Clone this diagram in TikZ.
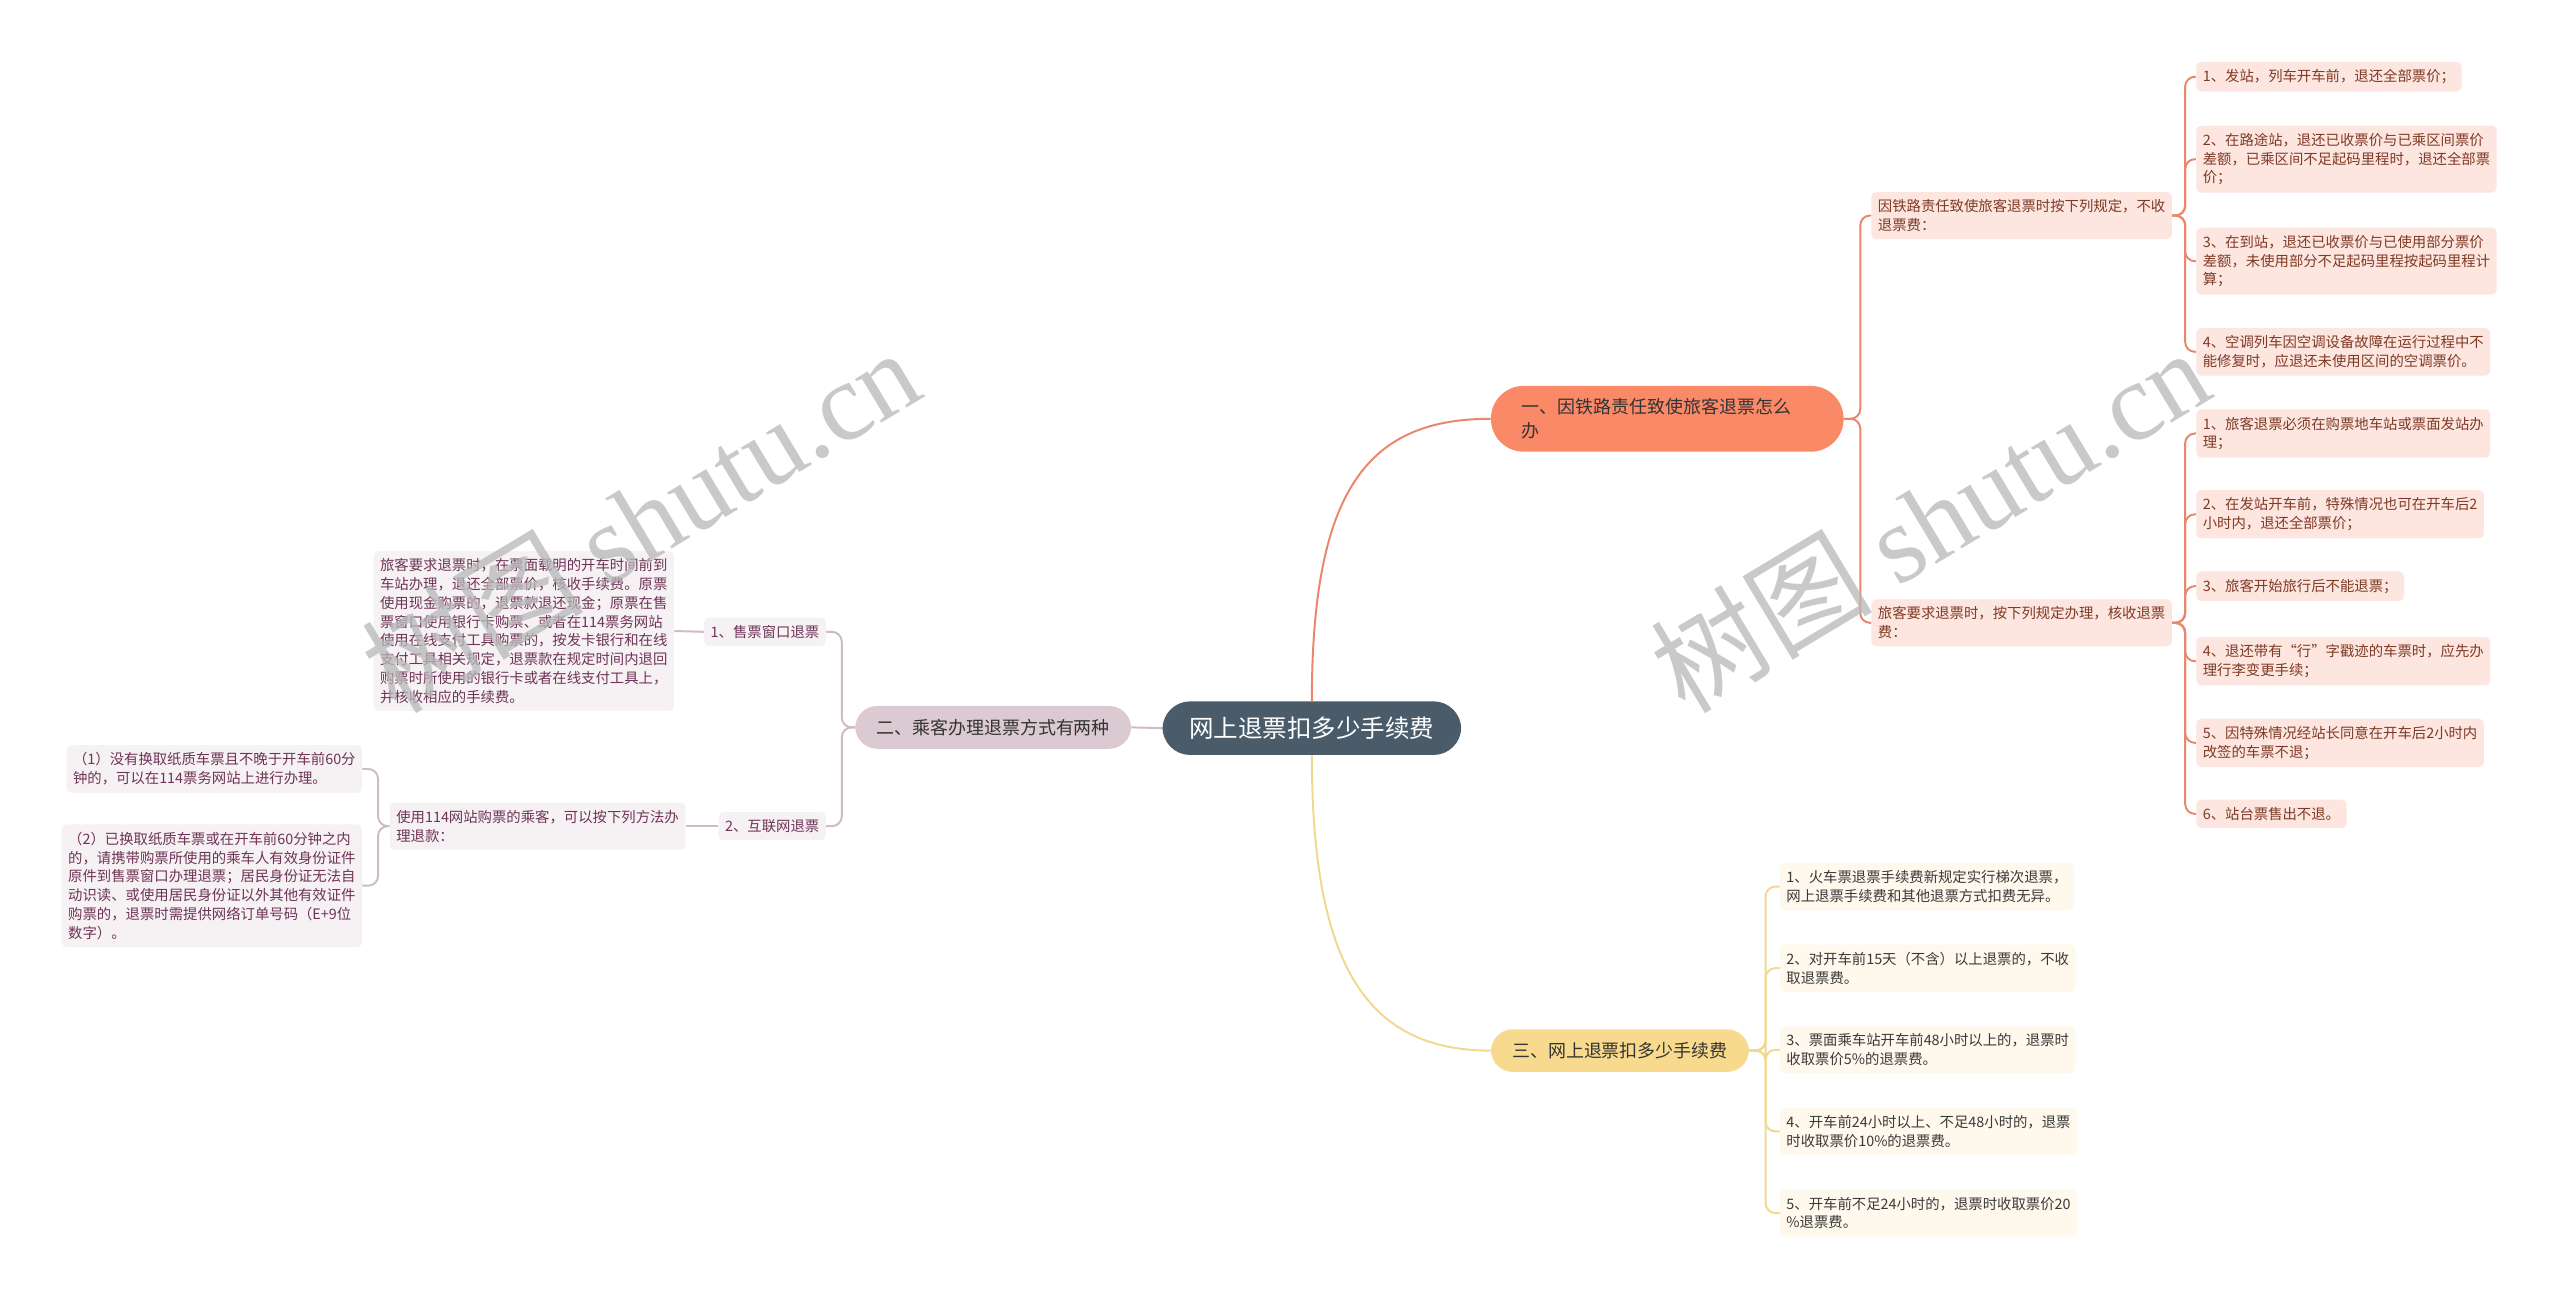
\documentclass[tikz,border=0pt]{standalone}
\usepackage{fontspec}
\setmainfont{Noto Sans CJK SC}
\newfontfamily\wmserif{Liberation Serif}
\usepackage{tikz}
\usetikzlibrary{positioning}
\definecolor{rootbg}{HTML}{4A5B6A}
\definecolor{onebg}{HTML}{FA8968}
\definecolor{oneline}{HTML}{E9866C}
\definecolor{oneleaf}{HTML}{FDE6E0}
\definecolor{onetext}{HTML}{7F3A25}
\definecolor{twobg}{HTML}{DCCAD2}
\definecolor{twoline}{HTML}{CDBCC4}
\definecolor{twoleaf}{HTML}{F6F1F3}
\definecolor{twotext}{HTML}{6E3457}
\definecolor{threebg}{HTML}{F7DA8E}
\definecolor{threeline}{HTML}{F2D88F}
\definecolor{threeleaf}{HTML}{FEF9EC}
\definecolor{threetext}{HTML}{3A3A3A}
\definecolor{darktext}{HTML}{333333}
\definecolor{wmgray}{HTML}{B8B8B8}

\begin{document}
\begin{tikzpicture}[x=1pt, y=-1pt,
    leaf/.style={align=left, inner xsep=4pt, inner ysep=4.6pt, rounded corners=3pt, font=\fontsize{8.8}{11.5}\selectfont},
    redleaf/.style={leaf, fill=oneleaf, text=onetext},
    mauveleaf/.style={leaf, fill=twoleaf, text=twotext},
    yellowleaf/.style={leaf, fill=threeleaf, text=threetext},
    topic/.style={align=left, inner xsep=13pt, inner ysep=8pt, rounded corners=13.5pt, font=\fontsize{11}{15}\selectfont, text=darktext},
    redline/.style={draw=oneline, line width=1.2pt, rounded corners=6pt},
    mauveline/.style={draw=twoline, line width=1.2pt, rounded corners=6pt},
    yellowline/.style={draw=threeline, line width=1.2pt, rounded corners=6pt},
    watermark/.style={rotate=31, text=wmgray, opacity=0.75, font=\fontsize{68}{68}\selectfont}]
        \fill[white] (0,0) rectangle (1568,797);
        \useasboundingbox (0,0) rectangle (1568,797);

        % Root and main topics
        \node[fill=rootbg, text=white, rounded corners=17pt, inner xsep=16.5pt, inner ysep=9.5pt, font=\fontsize{15}{18}\selectfont] (root) at (803.5, 446) {网上退票扣多少手续费};
        \node[topic, fill=onebg, anchor=west, text width=178pt, inner xsep=19pt, inner ysep=7.5pt, rounded corners=20pt] (one) at (913, 256.5) {一、因铁路责任致使旅客退票怎么\\办};
        \node[topic, fill=twobg, anchor=east] (two) at (693, 445.5) {二、乘客办理退票方式有两种};
        \node[topic, fill=threebg, anchor=west] (three) at (913, 643.5) {三、网上退票扣多少手续费};

        \draw[redline] (root.north) .. controls +(0,-130) and +(-75,0) .. (one.west);
        \draw[mauveline] (root.west) -- (two.east);
        \draw[yellowline] (root.south) .. controls +(0,130) and +(-75,0) .. (three.west);

        % Topic one
        \node[redleaf, anchor=west] (oneA) at (1146, 132) {因铁路责任致使旅客退票时按下列规定，不收\\退票费：};
        \node[redleaf, anchor=west] (oneB) at (1146, 381.5) {旅客要求退票时，按下列规定办理，核收退票\\费：};
        \draw[redline] (one.east) -- ++(10,0) |- (oneA.west);
        \draw[redline] (one.east) -- ++(10,0) |- (oneB.west);

        \node[redleaf, anchor=west] (oneA1) at (1345, 47) {1、发站，列车开车前，退还全部票价；};
        \node[redleaf, anchor=west] (oneA2) at (1345, 97.5) {2、在路途站，退还已收票价与已乘区间票价\\差额，已乘区间不足起码里程时，退还全部票\\价；};
        \node[redleaf, anchor=west] (oneA3) at (1345, 160) {3、在到站，退还已收票价与已使用部分票价\\差额，未使用部分不足起码里程按起码里程计\\算；};
        \node[redleaf, anchor=west] (oneA4) at (1345, 215.5) {4、空调列车因空调设备故障在运行过程中不\\能修复时，应退还未使用区间的空调票价。};
        \foreach \k in {1,...,4}
            \draw[redline] (oneA.east) -- ++(8,0) |- (oneA\k.west);

        \node[redleaf, anchor=west] (oneB1) at (1345, 265.5) {1、旅客退票必须在购票地车站或票面发站办\\理；};
        \node[redleaf, anchor=west] (oneB2) at (1345, 315) {2、在发站开车前，特殊情况也可在开车后2\\小时内，退还全部票价；};
        \node[redleaf, anchor=west] (oneB3) at (1345, 359) {3、旅客开始旅行后不能退票；};
        \node[redleaf, anchor=west] (oneB4) at (1345, 405) {4、退还带有“行”字戳迹的车票时，应先办\\理行李变更手续；};
        \node[redleaf, anchor=west] (oneB5) at (1345, 455) {5、因特殊情况经站长同意在开车后2小时内\\改签的车票不退；};
        \node[redleaf, anchor=west] (oneB6) at (1345, 498.5) {6、站台票售出不退。};
        \foreach \k in {1,...,6}
            \draw[redline] (oneB.east) -- ++(8,0) |- (oneB\k.west);

        % Topic two
        \node[mauveleaf, anchor=east] (twoA) at (506, 387) {1、售票窗口退票};
        \node[mauveleaf, anchor=east] (twoB) at (506, 506) {2、互联网退票};
        \draw[mauveline] (two.west) -- ++(-8,0) |- (twoA.east);
        \draw[mauveline] (two.west) -- ++(-8,0) |- (twoB.east);

        \node[mauveleaf, anchor=east] (twoA1) at (413, 386.5) {旅客要求退票时，在票面载明的开车时间前到\\车站办理，退还全部票价，核收手续费。原票\\使用现金购票的，退票款退还现金；原票在售\\票窗口使用银行卡购票、或者在114票务网站\\使用在线支付工具购票的，按发卡银行和在线\\支付工具相关规定，退票款在规定时间内退回\\购票时所使用的银行卡或者在线支付工具上，\\并核收相应的手续费。};
        \draw[mauveline] (twoA.west) -- (twoA1.east);

        \node[mauveleaf, anchor=east] (twoB1) at (420, 506) {使用114网站购票的乘客，可以按下列方法办\\理退款：};
        \draw[mauveline] (twoB.west) -- (twoB1.east);

        \node[mauveleaf, anchor=east] (twoB11) at (222, 471) {（1）没有换取纸质车票且不晚于开车前60分\\钟的，可以在114票务网站上进行办理。};
        \node[mauveleaf, anchor=east] (twoB12) at (222, 542.5) {（2）已换取纸质车票或在开车前60分钟之内\\的，请携带购票所使用的乘车人有效身份证件\\原件到售票窗口办理退票；居民身份证无法自\\动识读、或使用居民身份证以外其他有效证件\\购票的，退票时需提供网络订单号码（E+9位\\数字）。};
        \foreach \k in {1,2}
            \draw[mauveline] (twoB1.west) -- ++(-7,0) |- (twoB1\k.east);

        % Topic three
        \node[yellowleaf, anchor=west] (three1) at (1090, 543) {1、火车票退票手续费新规定实行梯次退票，\\网上退票手续费和其他退票方式扣费无异。};
        \node[yellowleaf, anchor=west] (three2) at (1090, 593) {2、对开车前15天（不含）以上退票的，不收\\取退票费。};
        \node[yellowleaf, anchor=west] (three3) at (1090, 643) {3、票面乘车站开车前48小时以上的，退票时\\收取票价5\%的退票费。};
        \node[yellowleaf, anchor=west] (three4) at (1090, 693) {4、开车前24小时以上、不足48小时的，退票\\时收取票价10\%的退票费。};
        \node[yellowleaf, anchor=west] (three5) at (1090, 743) {5、开车前不足24小时的，退票时收取票价20\\\%退票费。};
        \foreach \k in {1,...,5}
            \draw[yellowline] (three.east) -- ++(10,0) |- (three\k.west);

        % Watermarks
        \node[watermark] (wm1) at (392, 318) {树图 {\wmserif shutu.cn}};
        \node[watermark] (wm2) at (1182, 318) {树图 {\wmserif shutu.cn}};
    \end{tikzpicture}
\end{document}
